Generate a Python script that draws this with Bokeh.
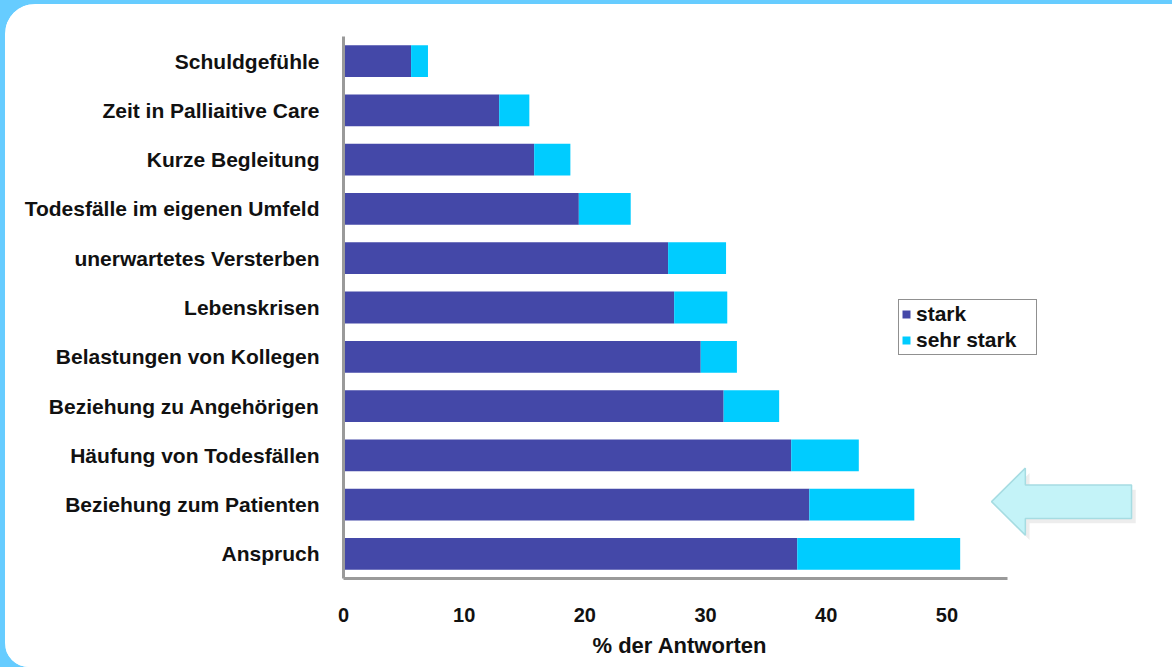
from bokeh.plotting import figure
from bokeh.models import FactorRange, Range1d, FixedTicker, Legend, LegendItem, ColumnDataSource, Title
from bokeh.layouts import column
from bokeh.embed import file_html
from bokeh.resources import INLINE

# Belastungsfaktoren, von oben nach unten
categories = [
    "Schuldgefühle",
    "Zeit in Palliaitive Care",
    "Kurze Begleitung",
    "Todesfälle im eigenen Umfeld",
    "unerwartetes Versterben",
    "Lebenskrisen",
    "Belastungen von Kollegen",
    "Beziehung zu Angehörigen",
    "Häufung von Todesfällen",
    "Beziehung zum Patienten",
    "Anspruch",
]
# Anteil der Antworten in %
stark = [5.6, 12.9, 15.8, 19.5, 26.9, 27.4, 29.6, 31.5, 37.1, 38.6, 37.6]
sehr_stark = [1.4, 2.5, 3.0, 4.3, 4.8, 4.4, 3.0, 4.6, 5.6, 8.7, 13.5]

series = ["stark", "sehr_stark"]
legend_labels = ["stark", "sehr stark"]
colors = ["#4448A8", "#00CCFF"]
x_ticks = [0, 10, 20, 30, 40, 50]
x_axis_end = 55
x_title = "% der Antworten"
highlight = "Beziehung zum Patienten"

FONT = "Liberation Sans"
TEXT = "#111111"

source = ColumnDataSource(dict(kategorie=categories, stark=stark, sehr_stark=sehr_stark))

p = figure(
    width=1167, height=663,
    y_range=FactorRange(*categories[::-1]),
    x_range=Range1d(0, 67.7),
    output_backend="svg", toolbar_location=None,
    min_border_left=338, min_border_top=32, min_border_bottom=89, min_border_right=12,
)
p.outline_line_color = None
p.background_fill_color = "white"
p.border_fill_color = "white"
p.grid.visible = False

renderers = p.hbar_stack(series, y="kategorie", height=0.645, color=colors,
                         line_color=None, source=source)

# Hinweispfeil auf "Beziehung zum Patienten"
ax = [53.7, 56.5, 56.5, 65.3, 65.3, 56.5, 56.5]
ay_off = [0.06, 0.74, 0.4, 0.4, -0.28, -0.28, -0.62]
p.patch([v + 0.35 for v in ax], [(highlight, o - 0.1) for o in ay_off],
        fill_color="black", fill_alpha=0.07, line_color=None)
p.patch(ax, [(highlight, o) for o in ay_off],
        fill_color="#C4F3F8", line_color="#A6DCE2", line_width=1.5)

# Achsen
xa = p.xaxis[0]
xa.ticker = FixedTicker(ticks=x_ticks)
xa.bounds = (0, x_axis_end)
xa.axis_line_color = "#9A9A9A"
xa.axis_line_width = 3
xa.major_tick_line_color = None
xa.minor_tick_line_color = None
xa.major_label_standoff = 23
xa.major_label_text_font = FONT
xa.major_label_text_font_style = "bold"
xa.major_label_text_font_size = "20px"
xa.major_label_text_color = TEXT

ya = p.yaxis[0]
ya.axis_line_color = "#9A9A9A"
ya.axis_line_width = 3
ya.major_tick_line_color = None
ya.minor_tick_line_color = None
ya.major_label_standoff = 18
ya.major_label_text_font = FONT
ya.major_label_text_font_style = "bold"
ya.major_label_text_font_size = "21px"
ya.major_label_text_color = TEXT

# Achsentitel unter der gezeichneten Achse (0 bis 55)
p.add_layout(Title(
    text=x_title, align="left", offset=249, standoff=12,
    text_font=FONT, text_font_style="bold", text_font_size="22px", text_color=TEXT,
), "below")

legend = Legend(
    items=[LegendItem(label=lab, renderers=[r]) for lab, r in zip(legend_labels, renderers)],
    location=(555, 223),
    margin=0,
    padding=2,
    spacing=2,
    glyph_width=10,
    glyph_height=10,
    label_height=21,
    label_width=118,
    label_standoff=5,
    label_text_font=FONT,
    label_text_font_style="bold",
    label_text_font_size="21px",
    label_text_color=TEXT,
    border_line_color="#222222",
    border_line_width=1.5,
    background_fill_color="white",
    background_fill_alpha=1.0,
)
p.add_layout(legend)

p.styles = {"border-radius": "30px 0 0 24px", "overflow": "hidden", "background-color": "white"}
page = column(p, styles={"background-color": "#66CCFF", "padding-top": "4px", "padding-left": "5px"})

open("out.html", "w").write(file_html(page, INLINE))
